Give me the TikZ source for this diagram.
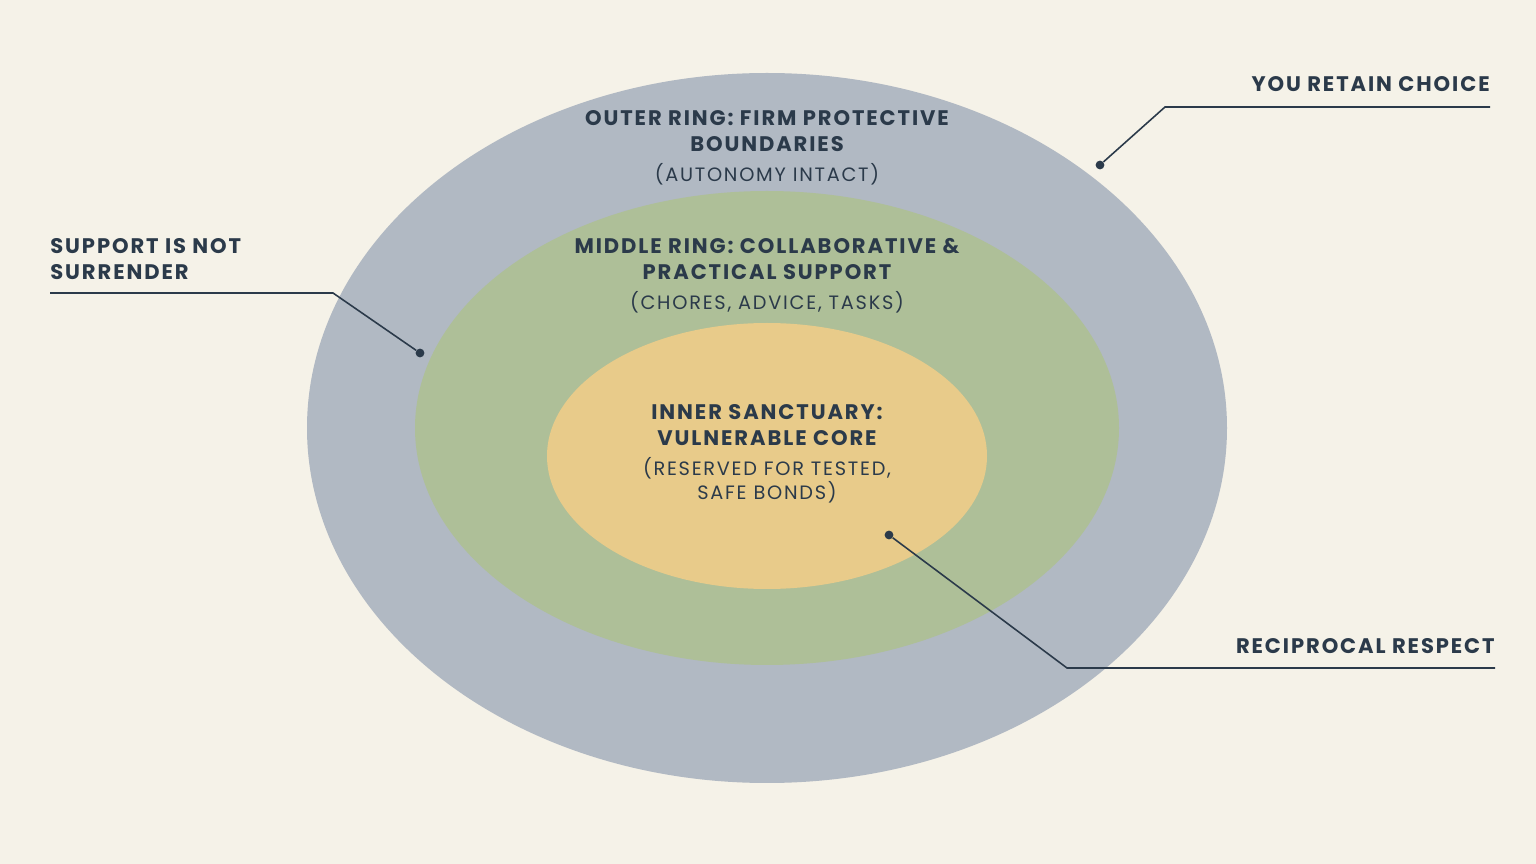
\documentclass[tikz,border=0pt]{standalone}
\usepackage{fontspec}
\setmainfont{Poppins}
\newfontfamily\lab[LetterSpace=9]{Poppins}
\usetikzlibrary{positioning}
\definecolor{paper}{HTML}{F5F2E8}
\definecolor{outerring}{HTML}{B1B9C3}
\definecolor{middlering}{HTML}{AEBF98}
\definecolor{innerring}{HTML}{E8CB8A}
\definecolor{ink}{HTML}{2B3A4A}
\tikzset{
  head/.style={font=\lab\bfseries\fontsize{12}{15}\selectfont, text=ink, align=center, inner sep=0},
  sub/.style={font=\lab\fontsize{11}{14}\selectfont, text=ink, align=center, inner sep=0},
  leader/.style={draw=ink, line width=0.9pt},
  pin/.style={circle, fill=ink, inner sep=0, minimum size=5pt}
}
\begin{document}
\begin{tikzpicture}[x=0.02cm, y=-0.02cm]
  \fill[paper] (0,0) rectangle (1536,864);
  \useasboundingbox (0,0) rectangle (1536,864);

  \fill[outerring] (767,428) ellipse [x radius=460, y radius=355];
  \fill[middlering] (767,428) ellipse [x radius=352, y radius=237];
  \fill[innerring] (767,456) ellipse [x radius=220, y radius=133];

  \node[head] (outer) at (767,131) {OUTER RING: FIRM PROTECTIVE\\BOUNDARIES};
  \node[sub, below=6pt of outer] (outersub) {(AUTONOMY INTACT)};
  \node[head] (middle) at (767,259) {MIDDLE RING: COLLABORATIVE \&\\PRACTICAL SUPPORT};
  \node[sub, below=6pt of middle] (middlesub) {(CHORES, ADVICE, TASKS)};
  \node[head] (inner) at (767,425) {INNER SANCTUARY:\\VULNERABLE CORE};
  \node[sub, below=6pt of inner] (innersub) {(RESERVED FOR TESTED,\\SAFE BONDS)};

  % callouts
  \node[pin] (p1) at (1100,165) {};
  \coordinate (k1) at (1165,107);
  \coordinate (e1) at (1490,107);
  \node[head, anchor=south east] (choice) at (1490,92) {YOU RETAIN CHOICE};
  \draw[leader] (p1) -- (k1) -- (e1);

  \node[pin] (p2) at (420,353) {};
  \coordinate (k2) at (333,293);
  \coordinate (e2) at (50,293);
  \node[head, anchor=south west, align=left] (surrender) at (50,280) {SUPPORT IS NOT\\SURRENDER};
  \draw[leader] (p2) -- (k2) -- (e2);

  \node[pin] (p3) at (889,535) {};
  \coordinate (k3) at (1067,668);
  \coordinate (e3) at (1495,668);
  \node[head, anchor=south east] (respect) at (1495,654) {RECIPROCAL RESPECT};
  \draw[leader] (p3) -- (k3) -- (e3);
\end{tikzpicture}
\end{document}
